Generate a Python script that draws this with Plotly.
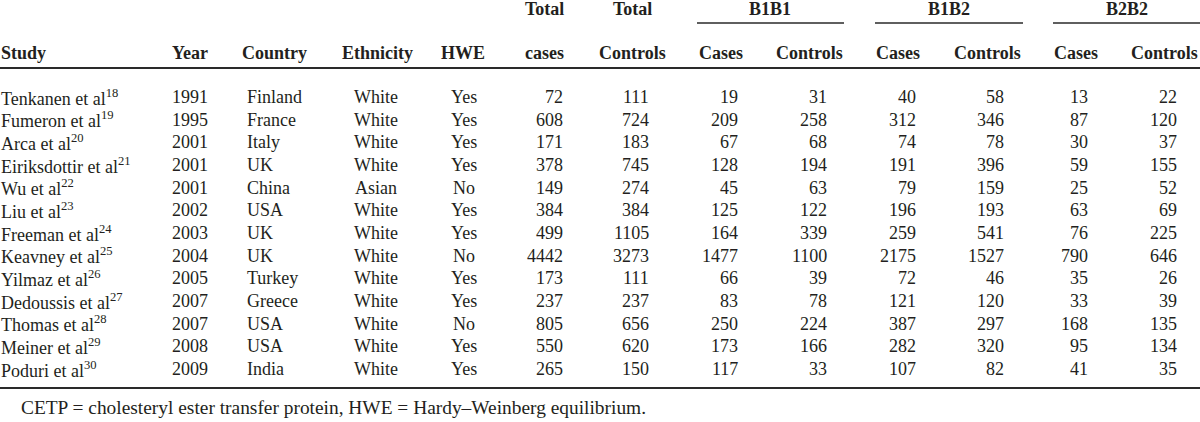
import plotly.graph_objects as go

# ---------------- data ----------------
studies = ["Tenkanen et al", "Fumeron et al", "Arca et al", "Eiriksdottir et al", "Wu et al",
           "Liu et al", "Freeman et al", "Keavney et al", "Yilmaz et al", "Dedoussis et al",
           "Thomas et al", "Meiner et al", "Poduri et al"]
refs = [18, 19, 20, 21, 22, 23, 24, 25, 26, 27, 28, 29, 30]
years = [1991, 1995, 2001, 2001, 2001, 2002, 2003, 2004, 2005, 2007, 2007, 2008, 2009]
countries = ["Finland", "France", "Italy", "UK", "China", "USA", "UK", "UK", "Turkey",
             "Greece", "USA", "USA", "India"]
ethnicities = ["White", "White", "White", "White", "Asian", "White", "White", "White", "White",
               "White", "White", "White", "White"]
hwe = ["Yes", "Yes", "Yes", "Yes", "No", "Yes", "Yes", "No", "Yes", "Yes", "No", "Yes", "Yes"]
total_cases = [72, 608, 171, 378, 149, 384, 499, 4442, 173, 237, 805, 550, 265]
total_controls = [111, 724, 183, 745, 274, 384, 1105, 3273, 111, 237, 656, 620, 150]
b1b1_cases = [19, 209, 67, 128, 45, 125, 164, 1477, 66, 83, 250, 173, 117]
b1b1_controls = [31, 258, 68, 194, 63, 122, 339, 1100, 39, 78, 224, 166, 33]
b1b2_cases = [40, 312, 74, 191, 79, 196, 259, 2175, 72, 121, 387, 282, 107]
b1b2_controls = [58, 346, 78, 396, 159, 193, 541, 1527, 46, 120, 297, 320, 82]
b2b2_cases = [13, 87, 30, 59, 25, 63, 76, 790, 35, 33, 168, 95, 41]
b2b2_controls = [22, 120, 37, 155, 52, 69, 225, 646, 26, 39, 135, 134, 35]

header_labels = ["Study", "Year", "Country", "Ethnicity", "HWE", "cases", "Controls",
                 "Cases", "Controls", "Cases", "Controls", "Cases", "Controls"]
group_labels = ["B1B1", "B1B2", "B2B2"]
footnote = "CETP = cholesteryl ester transfer protein, HWE = Hardy\u2013Weinberg equilibrium."

# ---------------- layout ----------------
W, H = 1200, 422
FONT = "Liberation Serif, Times New Roman, serif"
COL = "#231f20"
LINE = "#2a2a2a"
FS = 18

# column anchors (x, anchor) for data cells and header cells
data_cols = [(0, "left"), (171, "left"), (246, "left"), (376, "center"), (464, "center"),
             (564, "right"), (650, "right"), (739, "right"), (828, "right"),
             (917, "right"), (1005, "right"), (1089, "right"), (1178, "right")]
head_cols = [(0, "left"), (171, "left"), (241, "left"), (377, "center"), (463, "center"),
             (544, "center"), (632, "center"), (721, "center"), (809, "center"),
             (898, "center"), (987, "center"), (1076, "center"), (1164, "center")]

y_head = 53
y_total = 9
y_first = 97
dy = 22.67
y_rule_top = 68
y_rule_bot = 388
y_group_line = 23
y_foot = 407

group_spans = [(697, 844), (875, 1023), (1053, 1200)]
group_centers = [770, 949, 1127]
total_centers = [544, 632]

fig = go.Figure()
fig.add_trace(go.Scatter(x=[0, W], y=[0, H], mode="markers",
                         marker=dict(opacity=0), hoverinfo="skip", showlegend=False))

ann = []


def add(x, y, text, anchor, bold=False, size=FS):
    ann.append(dict(x=x, y=y, xref="x", yref="y", text=(f"<b>{text}</b>" if bold else text),
                    showarrow=False, xanchor=anchor, yanchor="middle", borderpad=0,
                    font=dict(family=FONT, size=size, color=COL)))


# headers
for (x, a), lab in zip(head_cols, header_labels):
    add(x, y_head, lab, a, bold=True)
for xc in total_centers:
    add(xc, y_total, "Total", "center", bold=True)
for xc, g in zip(group_centers, group_labels):
    add(xc, y_total, g, "center", bold=True)

# rows
columns = [
    [f"{s}<sup>{r}</sup>" for s, r in zip(studies, refs)],
    years, countries, ethnicities, hwe, total_cases, total_controls,
    b1b1_cases, b1b1_controls, b1b2_cases, b1b2_controls, b2b2_cases, b2b2_controls,
]
for i in range(len(studies)):
    y = y_first + i * dy
    for (x, a), col in zip(data_cols, columns):
        add(x, y, str(col[i]), a)

add(20, y_foot, footnote, "left", size=19.4)

shapes = [
    dict(type="line", xref="x", yref="y", x0=0, x1=W, y0=y_rule_top, y1=y_rule_top,
         line=dict(color=LINE, width=2.2)),
    dict(type="line", xref="x", yref="y", x0=0, x1=W, y0=y_rule_bot, y1=y_rule_bot,
         line=dict(color=LINE, width=2.2)),
]
for x0, x1 in group_spans:
    shapes.append(dict(type="line", xref="x", yref="y", x0=x0, x1=x1,
                       y0=y_group_line, y1=y_group_line,
                       line=dict(color=LINE, width=1.6)))

fig.update_layout(
    width=W, height=H, margin=dict(l=0, r=0, t=0, b=0),
    paper_bgcolor="white", plot_bgcolor="white",
    xaxis=dict(range=[0, W], visible=False, fixedrange=True),
    yaxis=dict(range=[H, 0], visible=False, fixedrange=True),
    annotations=ann, shapes=shapes, showlegend=False,
)

fig.write_html("out.html", config={"displayModeBar": False},
               post_script="document.body.style.margin='0px';document.body.style.overflow='hidden';")
